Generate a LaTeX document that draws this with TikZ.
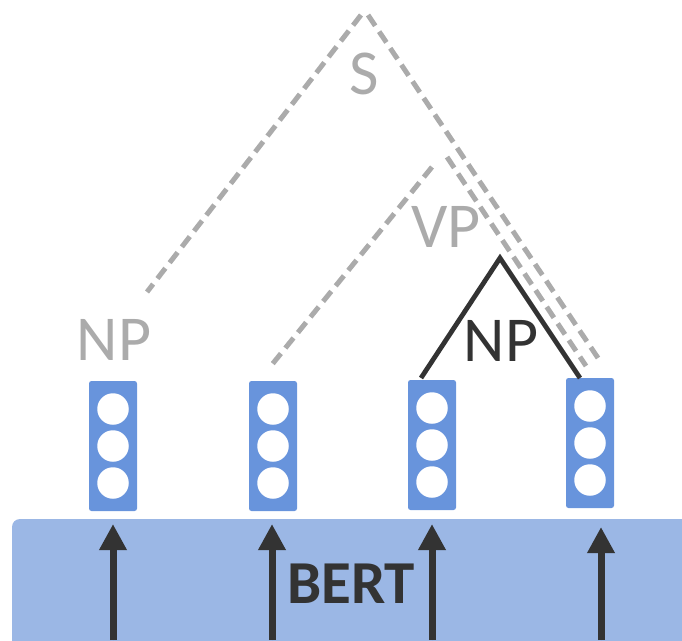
\documentclass[tikz,border=0pt]{standalone}
\usepackage{fontspec}
\setmainfont{Carlito}
\usetikzlibrary{arrows.meta}
\definecolor{lgray}{HTML}{ABABAB}
\definecolor{dkgray}{HTML}{333333}
\definecolor{vecblue}{HTML}{6894DC}
\definecolor{bertblue}{HTML}{9BB7E5}
\begin{document}
\begin{tikzpicture}[x=1pt,y=-1pt,
  vecbox/.style={fill=vecblue, rounded corners=2.5pt, minimum width=48pt, minimum height=130pt, inner sep=0pt, draw=none},
  unit/.style={circle, fill=white, minimum size=31.5pt, inner sep=0pt, draw=none},
  glabel/.style={text=lgray, font=\fontsize{64}{64}\selectfont, inner sep=0pt, anchor=base},
  blabel/.style={text=dkgray, font=\fontsize{64}{64}\selectfont, inner sep=0pt, anchor=base},
  dashline/.style={draw=lgray, line width=5pt, dash pattern=on 13pt off 7pt},
  solidline/.style={draw=dkgray, line width=4.8pt},
  uparrow/.style={draw=dkgray, fill=dkgray, line width=7pt, -{Triangle[length=26pt,width=26pt]}}
]
\useasboundingbox (0,0) rectangle (682,640);
\clip (0,0) rectangle (682,640);

% BERT block
\fill[bertblue, rounded corners=8pt] (12,519) rectangle (720,680);
\node[text=dkgray, font=\fontsize{61}{61}\selectfont\bfseries, inner sep=0pt, anchor=base] (bert) at (351,603) {BERT};

% vectors
\foreach \i/\x/\y in {1/113/446, 2/273/446, 3/432/445, 4/590/443}{
  \node[vecbox] (v\i) at (\x,\y) {};
  \node[unit] (u\i a) at (\x,\y-37) {};
  \node[unit] (u\i b) at (\x,\y) {};
  \node[unit] (u\i c) at (\x,\y+37) {};
}

% arrows
\foreach \i/\x/\t in {1/113/524, 2/272/524, 3/432/524, 4/601/527}{
  \coordinate (a\i s) at (\x,640);
  \coordinate (a\i t) at (\x,\t);
  \draw[uparrow] (a\i s) -- (a\i t);
}

% tree lines
\coordinate (sL) at (361,15);
\coordinate (sR) at (368,15);
\coordinate (sLb) at (147,292);
\coordinate (sRb) at (598,358);
\coordinate (vpL) at (432,167);
\coordinate (vpR) at (447,157);
\coordinate (vpLb) at (270,367);
\coordinate (vpRb) at (586,366);
\draw[dashline] (sL) -- (sLb);
\draw[dashline] (sR) -- (sRb);
\draw[dashline] (vpL) -- (vpLb);
\draw[dashline] (vpR) -- (vpRb);

\coordinate (np) at (500,258);
\coordinate (npL) at (421,378);
\coordinate (npR) at (580,378);
\draw[solidline] (npL) -- (np) -- (npR);

% labels
\node[glabel] (S) at (364,94) {S};
\node[glabel] (VP) at (446,247) {VP};
\node[glabel] (NP1) at (114,360) {NP};
\node[blabel] (NP2) at (501,361) {NP};
\end{tikzpicture}
\end{document}
